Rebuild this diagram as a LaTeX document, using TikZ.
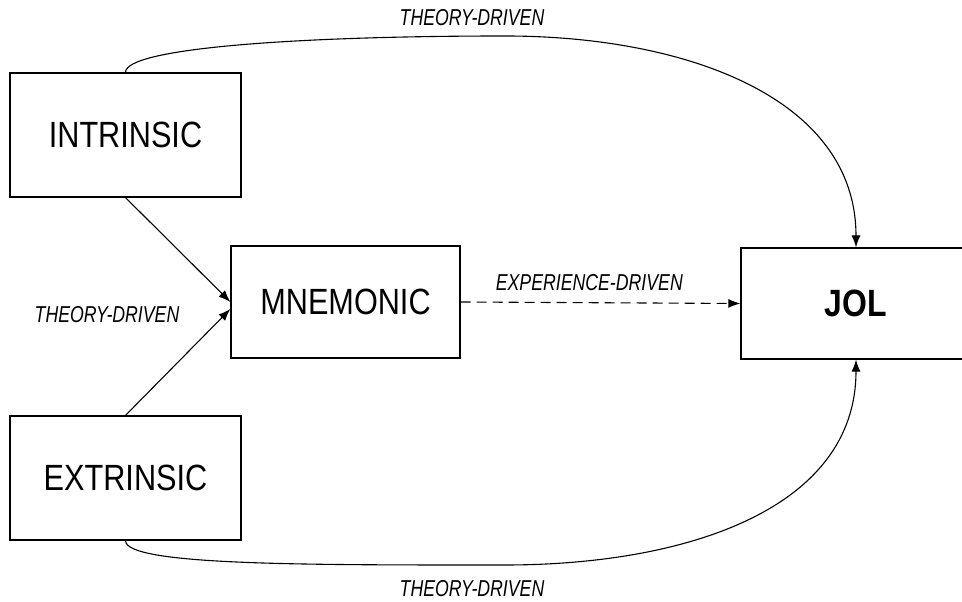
\documentclass[tikz,border=0pt]{standalone}
\usepackage{fontspec}
\newfontfamily\narrowfont[FakeStretch=0.84]{Liberation Sans}
\newfontfamily\lblfont[FakeStretch=0.77]{Liberation Sans}
\usepackage{tikz}
\usetikzlibrary{arrows.meta}
\tikzset{
  blk/.style = {draw=black, rectangle, line width=1.2pt, inner sep=0pt,
    font=\narrowfont\fontsize{36.5}{40}\selectfont},% boite
  blk_b/.style = {blk, font=\narrowfont\bfseries\fontsize{38}{40}\selectfont},% boite, gras
  lbl/.style = {inner sep=0pt, font=\lblfont\itshape\fontsize{23}{25}\selectfont},% etiquette
  arr/.style = {line width=1.1pt, -{Latex[length=12pt,width=9pt]}}
}
\begin{document}
\begin{tikzpicture}[x=1pt, y=1pt]
\useasboundingbox (0,0) rectangle (962,602);
\node [blk, minimum width=231, minimum height=124] (intr) at (125.5,467) {INTRINSIC};
\node [blk, minimum width=231, minimum height=124] (extr) at (125.5,124) {EXTRINSIC};
\node [blk, minimum width=229, minimum height=112] (mnem) at (345.5,300) {MNEMONIC};
\node [blk_b, minimum width=230, minimum height=111] (jol) at (856,298.5) {JOL};
\coordinate (peak_t) at (505,566);
\coordinate (peak_b) at (505,37);

\draw [arr] (intr.south) -- (mnem.west);
\draw [arr] (extr.north) -- ([yshift=-7pt]mnem.west);
\node [lbl] (th_m) at (107,287) {THEORY-DRIVEN};
\draw [arr, dashed, dash pattern=on 10pt off 6pt] (mnem.east) -- (jol.west)
    node [lbl, above=11pt, pos=0.46] (exp) {EXPERIENCE-DRIVEN};
\draw [arr] (intr.north) .. controls +(0,25) and +(-200,0) .. (peak_t)
    .. controls +(180,0) and +(0,150) .. (jol.north);
\draw [arr] (extr.south) .. controls +(0,-25) and +(-200,0) .. (peak_b)
    .. controls +(180,0) and +(0,-150) .. (jol.south);
\node [lbl] (th_t) at (472,584) {THEORY-DRIVEN};
\node [lbl] (th_b) at (472,13) {THEORY-DRIVEN};
\end{tikzpicture}
\end{document}
